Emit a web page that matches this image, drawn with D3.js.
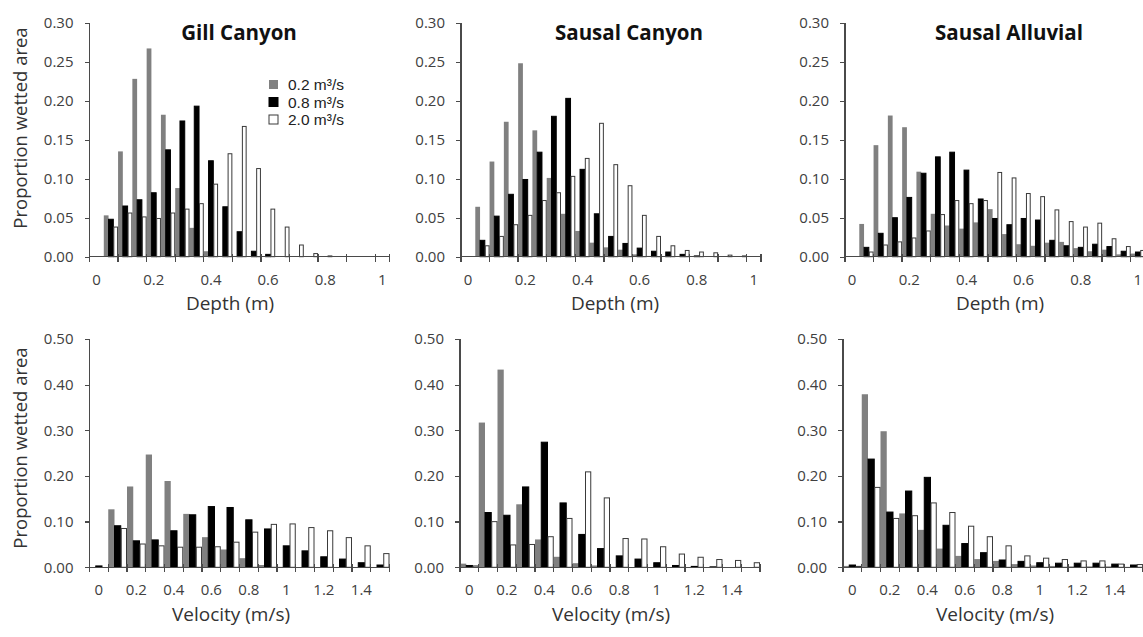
<!DOCTYPE html>
<meta charset="utf-8">
<style type="text/css">

body {
  margin: 0;
  background: #fff;
}

svg {
  font-family: "Open Sans", sans-serif;
}

.axis-line,
.tick-mark {
  stroke: #4a4a4a;
  stroke-width: 1.3px;
  shape-rendering: crispEdges;
}

.tick-label {
  fill: #404040;
  font-size: 15px;
}

.axis-title {
  fill: #333;
  font-size: 19px;
}

.panel-title {
  fill: #111;
  font-size: 20.5px;
  font-weight: bold;
}

.legend text {
  font-family: "Liberation Sans", Arial, sans-serif;
  font-size: 15.5px;
  fill: #222;
}

</style>
<body>

<div id="chart"></div>

<script src="https://d3js.org/d3.v7.min.js"></script>
<script>
var width = 1143,
    height = 637;

// flows (series)
var flows = ['0.2 m\u00b3/s', '0.8 m\u00b3/s', '2.0 m\u00b3/s'];

// depth bins (m) and tick labels
var depthBins = [0, 0.05, 0.1, 0.15, 0.2, 0.25, 0.3, 0.35, 0.4, 0.45, 0.5,
                 0.55, 0.6, 0.65, 0.7, 0.75, 0.8, 0.85, 0.9, 0.95, 1];
var depthLabels = [0, 0.2, 0.4, 0.6, 0.8, 1];
var depthYTicks = [0, 0.05, 0.1, 0.15, 0.2, 0.25, 0.3];

// velocity bins (m/s) and tick labels
var velocityBins = [0, 0.1, 0.2, 0.3, 0.4, 0.5, 0.6, 0.7, 0.8, 0.9, 1,
                    1.1, 1.2, 1.3, 1.4, 1.5];
var velocityLabels = [0, 0.2, 0.4, 0.6, 0.8, 1, 1.2, 1.4];
var velocityYTicks = [0, 0.1, 0.2, 0.3, 0.4, 0.5];

// Gill Canyon - depth
var gillDepth02 = [0, 0.053, 0.135, 0.228, 0.267, 0.182, 0.088, 0.037, 0.007, 0.001, 0, 0, 0, 0, 0, 0, 0, 0, 0, 0, 0];
var gillDepth08 = [0, 0.048, 0.065, 0.073, 0.082, 0.137, 0.174, 0.193, 0.123, 0.064, 0.032, 0.007, 0.003, 0, 0, 0, 0, 0, 0, 0, 0];
var gillDepth20 = [0, 0.038, 0.056, 0.051, 0.049, 0.056, 0.061, 0.068, 0.093, 0.132, 0.167, 0.113, 0.061, 0.038, 0.015, 0.004, 0.001, 0, 0, 0, 0];

// Sausal Canyon - depth
var sausalDepth02 = [0, 0.064, 0.122, 0.173, 0.248, 0.162, 0.101, 0.055, 0.033, 0.018, 0.012, 0.009, 0.003, 0.001, 0, 0, 0, 0, 0, 0, 0];
var sausalDepth08 = [0, 0.021, 0.052, 0.080, 0.099, 0.134, 0.180, 0.203, 0.112, 0.055, 0.026, 0.017, 0.011, 0.007, 0.006, 0.003, 0.001, 0, 0, 0, 0];
var sausalDepth20 = [0, 0.014, 0.026, 0.041, 0.053, 0.072, 0.082, 0.103, 0.126, 0.171, 0.118, 0.091, 0.053, 0.026, 0.014, 0.008, 0.006, 0.005, 0.002, 0.001, 0];

// Sausal Alluvial - depth
var alluvialDepth02 = [0, 0.042, 0.143, 0.181, 0.166, 0.109, 0.055, 0.040, 0.036, 0.044, 0.061, 0.029, 0.016, 0.014, 0.018, 0.019, 0.011, 0.007, 0.009, 0.003, 0.004];
var alluvialDepth08 = [0, 0.012, 0.030, 0.050, 0.076, 0.107, 0.128, 0.134, 0.111, 0.074, 0.049, 0.041, 0.049, 0.047, 0.021, 0.014, 0.012, 0.016, 0.013, 0.007, 0.006];
var alluvialDepth20 = [0, 0.006, 0.015, 0.019, 0.024, 0.033, 0.054, 0.072, 0.068, 0.072, 0.108, 0.101, 0.081, 0.077, 0.060, 0.045, 0.038, 0.043, 0.023, 0.013, 0.008];

// Gill Canyon - velocity
var gillVel02 = [0, 0.127, 0.177, 0.247, 0.189, 0.117, 0.066, 0.039, 0.020, 0.005, 0.001, 0, 0, 0, 0, 0];
var gillVel08 = [0.003, 0.091, 0.058, 0.060, 0.080, 0.115, 0.133, 0.131, 0.104, 0.084, 0.047, 0.036, 0.023, 0.018, 0.010, 0.005];
var gillVel20 = [0, 0.085, 0.051, 0.047, 0.044, 0.044, 0.045, 0.055, 0.077, 0.094, 0.095, 0.087, 0.080, 0.065, 0.047, 0.030];

// Sausal Canyon - velocity
var sausalVel02 = [0.008, 0.317, 0.433, 0.138, 0.061, 0.023, 0.009, 0.004, 0.001, 0, 0, 0, 0, 0, 0, 0];
var sausalVel08 = [0.004, 0.120, 0.114, 0.176, 0.274, 0.141, 0.072, 0.041, 0.025, 0.018, 0.010, 0.004, 0.002, 0.001, 0, 0];
var sausalVel20 = [0.003, 0.100, 0.049, 0.050, 0.067, 0.107, 0.209, 0.152, 0.063, 0.062, 0.045, 0.029, 0.022, 0.017, 0.015, 0.010];

// Sausal Alluvial - velocity
var alluvialVel02 = [0.003, 0.379, 0.298, 0.118, 0.082, 0.041, 0.025, 0.018, 0.014, 0.007, 0.004, 0.003, 0.002, 0.002, 0.002, 0.001];
var alluvialVel08 = [0.005, 0.237, 0.121, 0.167, 0.197, 0.092, 0.052, 0.032, 0.016, 0.013, 0.010, 0.009, 0.009, 0.009, 0.007, 0.005];
var alluvialVel20 = [0.002, 0.175, 0.107, 0.113, 0.141, 0.120, 0.090, 0.067, 0.047, 0.025, 0.020, 0.017, 0.014, 0.014, 0.007, 0.006];

var fills = ['#808080', '#000000', '#ffffff'];
var strokes = ['none', '#000000', '#3a3a3a'];

// row settings
var rows = {
  depth: {
    bins: depthBins, labels: depthLabels, yTicks: depthYTicks, yMax: 0.3,
    top: 22.7, bottom: 256.7, tickEvery: 2, xTitle: 'Depth (m)', xTitleY: 310
  },
  velocity: {
    bins: velocityBins, labels: velocityLabels, yTicks: velocityYTicks, yMax: 0.5,
    top: 339, bottom: 567.3, tickEvery: 1, xTitle: 'Velocity (m/s)', xTitleY: 621
  }
};

var panels = [
  { title: 'Gill Canyon', row: 'depth', left: 89.5, titleX: 239, yTitle: true, legend: true,
    series: [gillDepth02, gillDepth08, gillDepth20], xTitleX: 230 },
  { title: 'Sausal Canyon', row: 'depth', left: 461, titleX: 629,
    series: [sausalDepth02, sausalDepth08, sausalDepth20], xTitleX: 615 },
  { title: 'Sausal Alluvial', row: 'depth', left: 845, titleX: 1009,
    series: [alluvialDepth02, alluvialDepth08, alluvialDepth20], xTitleX: 1000 },
  { row: 'velocity', left: 89.5, yTitle: true,
    series: [gillVel02, gillVel08, gillVel20], xTitleX: 231 },
  { row: 'velocity', left: 460,
    series: [sausalVel02, sausalVel08, sausalVel20], xTitleX: 611 },
  { row: 'velocity', left: 843,
    series: [alluvialVel02, alluvialVel08, alluvialVel20], xTitleX: 995 }
];

var plotWidth = 300;

var svg = d3.select('#chart').append('svg')
    .attr('width', width)
    .attr('height', height);

panels.forEach(drawPanel);

function drawPanel(p) {
  var row = rows[p.row];
  var g = svg.append('g');

  var x = d3.scaleBand()
      .domain(row.bins)
      .range([p.left, p.left + plotWidth])
      .paddingInner(0)
      .paddingOuter(0);

  var xInner = d3.scaleBand()
      .domain(d3.range(flows.length))
      .range([0, x.bandwidth()]);

  var y = d3.scaleLinear()
      .domain([0, row.yMax])
      .range([row.bottom, row.top]);

  // bars
  p.series.forEach(function(values, s) {
    g.append('g')
      .selectAll('rect')
        .data(values)
      .enter()
        .append('rect')
          .attr('x', function(d, i) { return x(row.bins[i]) + xInner(s) + (s === 2 ? 0.5 : 0); })
          .attr('y', function(d) { return y(d); })
          .attr('width', xInner.bandwidth() - (s === 2 ? 1 : 0))
          .attr('height', function(d) { return y(0) - y(d); })
          .attr('fill', fills[s])
          .attr('stroke', function(d) { return d > 0 ? strokes[s] : 'none'; })
          .attr('stroke-width', 1);
  });

  // y axis
  var yAxis = d3.axisLeft(y)
      .tickValues(row.yTicks)
      .tickSize(5)
      .tickSizeOuter(0)
      .tickFormat(d3.format('.2f'));

  var ya = g.append('g')
      .attr('transform', 'translate(' + p.left + ',0)')
      .call(yAxis);
  ya.select('.domain').remove();
  ya.selectAll('.tick line').attr('class', 'tick-mark');
  ya.selectAll('.tick text')
      .attr('class', 'tick-label')
      .attr('x', -16)
      .attr('fill', null);
  ya.attr('font-family', null).attr('font-size', null);

  g.append('line')
      .attr('class', 'axis-line')
      .attr('x1', p.left).attr('x2', p.left)
      .attr('y1', y.range()[1]).attr('y2', y.range()[0]);

  // x axis line
  g.append('line')
      .attr('class', 'axis-line')
      .attr('x1', p.left).attr('x2', x.range()[1])
      .attr('y1', y(0)).attr('y2', y(0));

  // x tick marks at bin edges
  var edges = row.bins.filter(function(b, i) { return i % row.tickEvery === 0; })
      .map(function(b) { return x(b); })
      .concat([x.range()[1]]);

  g.selectAll('.xtick')
      .data(edges)
    .enter()
      .append('line')
        .attr('class', 'tick-mark')
        .attr('x1', function(d) { return d; })
        .attr('x2', function(d) { return d; })
        .attr('y1', y(0) - 3)
        .attr('y2', y(0) + 5);

  // x tick labels, centred under their bins
  g.selectAll('.xlabel')
      .data(row.labels)
    .enter()
      .append('text')
        .attr('class', 'tick-label')
        .attr('x', function(v) { return x(v) + x.bandwidth() / 2; })
        .attr('y', y(0) + 28)
        .attr('text-anchor', 'middle')
        .text(function(d) { return d3.format('')(d); });

  // x title
  g.append('text')
      .attr('class', 'axis-title')
      .attr('x', p.xTitleX)
      .attr('y', row.xTitleY)
      .attr('text-anchor', 'middle')
      .text(row.xTitle);

  // y title
  if (p.yTitle) {
    var cy = p.row === 'depth' ? 128 : 448;
    g.append('text')
        .attr('class', 'axis-title')
        .attr('transform', 'translate(27,' + cy + ') rotate(-90)')
        .attr('text-anchor', 'middle')
        .style('font-size', '18.5px')
        .text('Proportion wetted area');
  }

  // panel title
  if (p.title) {
    g.append('text')
        .attr('class', 'panel-title')
        .attr('x', p.titleX)
        .attr('y', 40)
        .attr('text-anchor', 'middle')
        .text(p.title);
  }

  if (p.legend) drawLegend(g);
}

function drawLegend(g) {
  var legend = g.append('g')
      .attr('class', 'legend')
      .attr('transform', 'translate(269,80)');

  var item = legend.selectAll('.item')
      .data(flows)
    .enter()
      .append('g')
        .attr('transform', function(d, i) { return 'translate(0,' + (i * 17.5) + ')'; });

  item.append('rect')
      .attr('width', 9)
      .attr('height', 9)
      .attr('fill', function(d, i) { return fills[i]; })
      .attr('stroke', function(d, i) { return i === 0 ? 'none' : strokes[i]; });

  item.append('text')
      .attr('x', 19)
      .attr('y', 5)
      .attr('dy', '0.35em')
      .text(function(d) { return d; });
}
</script>
